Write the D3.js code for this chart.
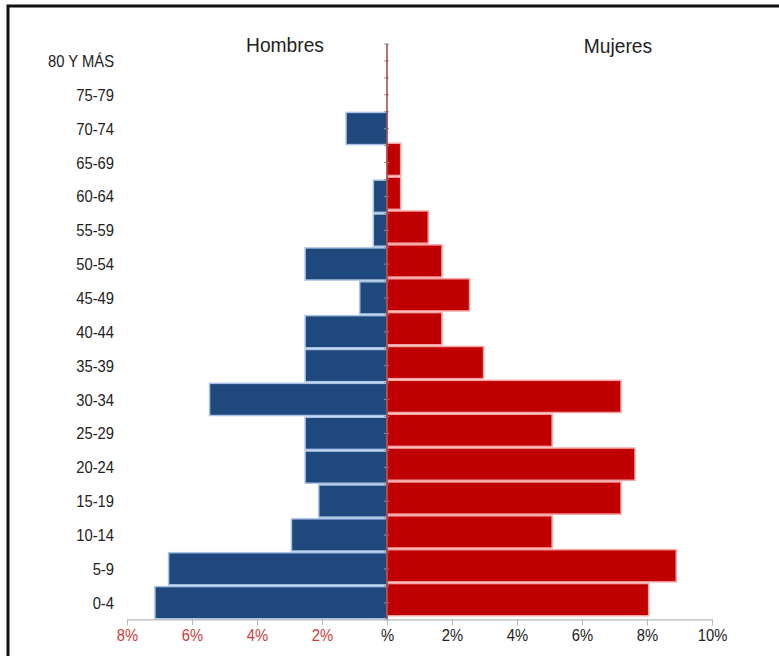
<!DOCTYPE html>
<html>
<head>
<meta charset="utf-8">
<script src="https://cdn.jsdelivr.net/npm/d3@7"></script>
<style>
  html, body { margin: 0; padding: 0; background: #fff; }
  svg { display: block; }
  text { font-family: "Liberation Sans", Arial, sans-serif; }
</style>
</head>
<body>
<svg id="chart" width="779" height="656"></svg>
<script>
// Age groups, top to bottom
const ageGroups = ["80 Y MÁS", "75-79", "70-74", "65-69", "60-64", "55-59", "50-54", "45-49",
  "40-44", "35-39", "30-34", "25-29", "20-24", "15-19", "10-14", "5-9", "0-4"];

// Share of population (%) per age group
const hombres = [0, 0, 1.26, 0, 0.42, 0.42, 2.52, 0.84, 2.52, 2.52, 5.46, 2.52, 2.52, 2.1, 2.94, 6.72, 7.14];
const mujeres = [0, 0, 0, 0.42, 0.42, 1.27, 1.69, 2.54, 1.69, 2.97, 7.2, 5.08, 7.63, 7.2, 5.08, 8.9, 8.05];

// Axis ticks: negative side for men, positive for women
const tickValues = [-8, -6, -4, -2, 0, 2, 4, 6, 8, 10];
const tickLabels = ["8%", "6%", "4%", "2%", "%", "2%", "4%", "6%", "8%", "10%"];

const NARROW = 0.87;   // horizontal squeeze for a condensed look

const svg = d3.select("#chart");

// Frame
svg.append("rect")
  .attr("x", 8).attr("y", 6)
  .attr("width", 800).attr("height", 700)
  .attr("fill", "none").attr("stroke", "#111").attr("stroke-width", 3);

const x = d3.scaleLinear().domain([-8, 10]).range([127, 712]);
const y = d3.scaleBand().domain(ageGroups).range([44, 619.4]).paddingInner(0.05).paddingOuter(0.02);

const rows = ageGroups.map((g, i) => ({ g, m: hombres[i], f: mujeres[i] }));

// Men bars (left)
svg.append("g").selectAll("rect")
  .data(rows.filter(d => d.m > 0))
  .join("rect")
  .attr("x", d => x(-d.m))
  .attr("y", d => y(d.g))
  .attr("width", d => x(0) - x(-d.m))
  .attr("height", y.bandwidth())
  .attr("fill", "#1f497d")
  .attr("stroke", "#a9c4e6")
  .attr("stroke-width", 1.5);

// Women bars (right), drawn a touch higher
svg.append("g").attr("transform", "translate(0,-3)").selectAll("rect")
  .data(rows.filter(d => d.f > 0))
  .join("rect")
  .attr("x", x(0))
  .attr("y", d => y(d.g))
  .attr("width", d => x(d.f) - x(0))
  .attr("height", y.bandwidth())
  .attr("fill", "#c00000")
  .attr("stroke", "#f5a3a3")
  .attr("stroke-width", 1.5);

// Vertical centre axis with small ticks at band edges and centres
const yTop = y.range()[0], yBot = y.range()[1];
const step = y.step();
const vt = d3.range(0, ageGroups.length * 2 + 1).map(k => yTop + k * step / 2);
svg.append("g").selectAll("line")
  .data(vt)
  .join("line")
  .attr("x1", x(0) - 3).attr("x2", x(0) + 2)
  .attr("y1", d => d).attr("y2", d => d)
  .attr("stroke", "#999").attr("stroke-width", 1);
svg.append("line")
  .attr("x1", x(0)).attr("x2", x(0))
  .attr("y1", yTop).attr("y2", yBot)
  .attr("stroke", "#8e2a2a").attr("stroke-width", 1.3);

// Bottom axis
const xAxis = d3.axisBottom(x)
  .tickValues(tickValues)
  .tickFormat((d, i) => tickLabels[i])
  .tickSizeInner(6).tickSizeOuter(0).tickPadding(4);
const gx = svg.append("g").attr("transform", `translate(0,${yBot})`).call(xAxis);
gx.select(".domain").attr("stroke", "#b8b8b8").attr("stroke-width", 1.2);
gx.selectAll(".tick line").attr("stroke", "#b8b8b8");
gx.selectAll(".tick text")
  .attr("font-size", 17)
  .attr("transform", `scale(${NARROW},1)`)
  .attr("fill", d => d < 0 ? "#d23a3a" : "#222");

// Age group labels
svg.append("g").selectAll("text")
  .data(ageGroups)
  .join("text")
  .attr("transform", d => `translate(114,${y(d) + y.bandwidth() / 2}) scale(${NARROW},1)`)
  .attr("dy", "0.36em")
  .attr("text-anchor", "end")
  .attr("font-size", 17)
  .attr("fill", "#222")
  .text(d => d);

// Side titles
svg.append("text").attr("transform", "translate(285,52) scale(0.96,1)").attr("text-anchor", "middle")
  .attr("font-size", 20).attr("fill", "#222").text("Hombres");
svg.append("text").attr("transform", "translate(618,53) scale(0.96,1)").attr("text-anchor", "middle")
  .attr("font-size", 20).attr("fill", "#222").text("Mujeres");
</script>
</body>
</html>
